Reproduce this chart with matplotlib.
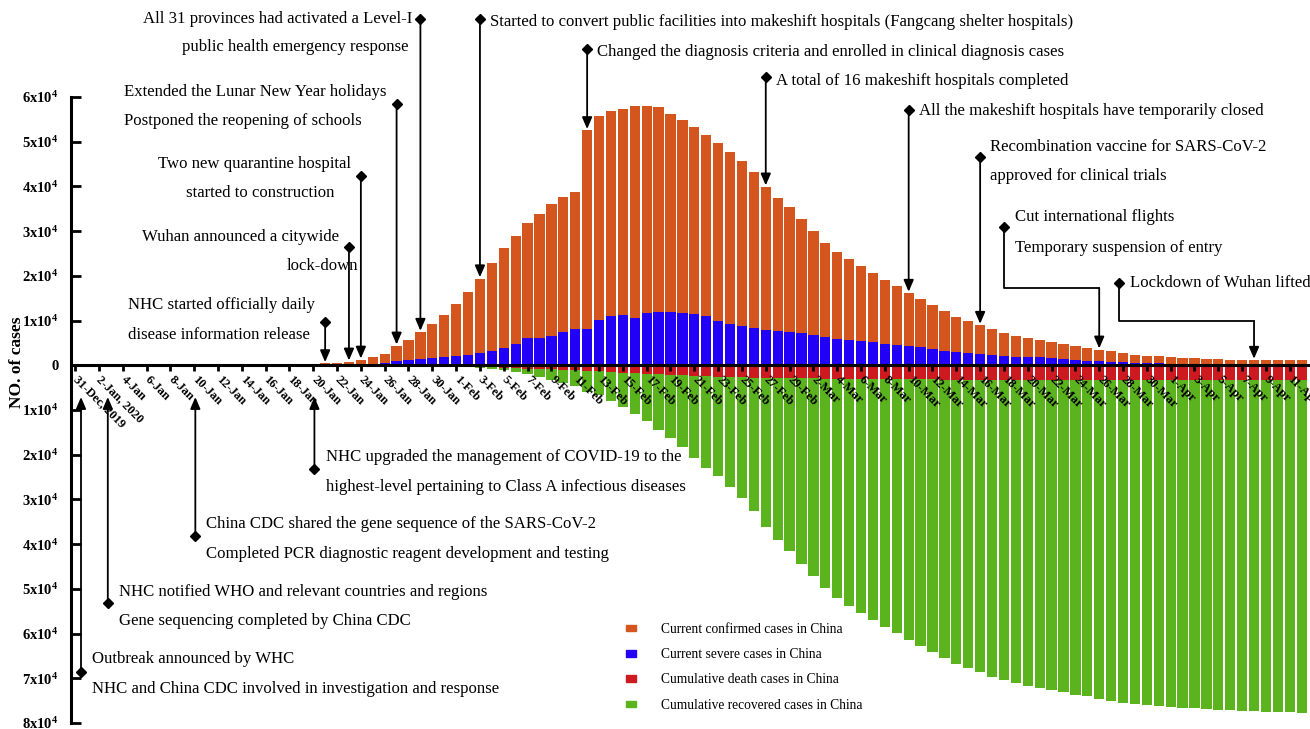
import matplotlib
matplotlib.use("Agg")
import matplotlib.pyplot as plt
import matplotlib.dates as mdates
from matplotlib.patches import Patch
import numpy as np
import pandas as pd

plt.rcParams["font.family"] = ["Liberation Serif", "DejaVu Serif"]
plt.rcParams["mathtext.fontset"] = "custom"
plt.rcParams["mathtext.rm"] = "Liberation Serif"
plt.rcParams["mathtext.bf"] = "Liberation Serif:bold"

# daily data, 20-Jan .. 12-Apr 2020
dates = pd.date_range("2020-01-20", "2020-04-12")

current_confirmed = [
    260, 403, 526, 771, 1208, 1870, 2613, 4349, 5739, 7417, 9308, 11289,
    13748, 16369, 19381, 22942, 26302, 28985, 31774, 33738, 35982, 37626, 38800,
    52526, 55748, 56873, 57416, 57934, 58016, 57805, 56303, 54965, 53284, 51606,
    49824, 47672, 45604, 43258, 39919, 37414, 35329,
    32652, 30004, 27433, 25352, 23784, 22177, 20533, 19016, 17721, 16145, 14831,
    13526, 12094, 10734, 9898, 8976, 8056, 7263, 6569, 6013, 5549, 5120, 4735,
    4287, 3947, 3460, 3128, 2691, 2396, 2161, 2004,
    1863, 1727, 1562, 1376, 1299, 1242, 1190, 1160, 1116, 1089, 1138, 1156,
]
current_severe = [
    63, 102, 95, 177, 237, 324, 461, 976, 1239, 1370, 1527, 1795,
    2110, 2296, 2788, 3219, 3859, 4821, 6101, 6188, 6484, 7333, 8204,
    8030, 10204, 11053, 11272, 10644, 11741, 12017, 11977, 11633, 11477, 10968,
    9915, 9126, 8752, 8346, 7952, 7664, 7365,
    7110, 6806, 6416, 5952, 5737, 5489, 5264, 4794, 4492, 4257, 4020,
    3610, 3226, 3032, 2830, 2622, 2314, 2136, 1963, 1845, 1749, 1573,
    1399, 1235, 1034, 921, 742, 633, 528, 466, 429,
    295, 267, 211, 189, 183, 176, 189, 176, 168, 121, 121, 89,
]
cum_deaths = [
    6, 9, 17, 25, 41, 56, 80, 106, 132, 170, 213, 259,
    304, 361, 425, 490, 563, 636, 722, 811, 908, 1016, 1113, 1367, 1380, 1523,
    1665, 1770, 1868, 2004, 2118, 2236, 2345, 2442, 2592, 2663, 2715, 2744,
    2788, 2835, 2870,
    2912, 2943, 2981, 3012, 3042, 3070, 3097, 3119, 3136, 3158, 3169, 3176,
    3189, 3199, 3213, 3226, 3237, 3245, 3248, 3255, 3261, 3270, 3277, 3281,
    3287, 3292, 3295, 3300, 3304, 3305, 3312,
    3318, 3322, 3326, 3329, 3331, 3331, 3333, 3335, 3336, 3339, 3339, 3341,
]
cum_recovered = [
    25, 28, 28, 34, 38, 49, 51, 60, 103, 124, 171, 243,
    328, 475, 632, 892, 1153, 1540, 2050, 2649, 3281, 3996, 4740, 5911, 6723,
    8096, 9419, 10844, 12552, 14376, 16155, 18264, 20659, 22888, 24734, 27323,
    29745, 32495, 36117, 39002, 41625,
    44462, 47204, 49856, 52045, 53726, 55404, 57065, 58600, 59897, 61475,
    62793, 64111, 65541, 66911, 67749, 68679, 69601, 70420, 71150, 71740,
    72244, 72703, 73159, 73650, 74051, 74588, 74971, 75448, 75790, 76052, 76238,
    76408, 76571, 76751, 76964, 77078, 77167, 77279, 77370, 77455, 77525,
    77575, 77663,
]

tick_dates = pd.date_range("2019-12-31", "2020-04-11", freq="2D")
tick_labels = [f"{d.day}-{d.strftime('%b')}" for d in tick_dates]
tick_labels[0] = "31-Dec, 2019"
tick_labels[1] = "2-Jan, 2020"

legend_labels = [
    "Current confirmed cases in China",
    "Current severe cases in China",
    "Cumulative death cases in China",
    "Cumulative recovered cases in China",
]
colors = ["#D4561E", "#2200F8", "#CC1A20", "#5BB31E"]

fig = plt.figure(figsize=(13.1, 7.29), dpi=100)
ax = fig.add_axes([71 / 1310, 6 / 729, 1 - 71 / 1310, (723 - 97) / 729])

x = mdates.date2num(dates)
w = 0.86
ax.bar(x, current_confirmed, width=w, color=colors[0], linewidth=0)
ax.bar(x, current_severe, width=w, color=colors[1], linewidth=0)
ax.bar(x, -np.array(cum_recovered), width=w, color=colors[3], linewidth=0)
ax.bar(x, -np.array(cum_deaths), width=w, color=colors[2], linewidth=0)

base = mdates.date2num(pd.Timestamp("2019-12-31"))
ax.set_xlim(base - 0.34, base + 103.7)
ax.set_ylim(-80000, 60000)

for s in ("top", "right"):
    ax.spines[s].set_visible(False)
ax.spines["bottom"].set_position(("data", 0))
ax.spines["bottom"].set_linewidth(2.2)
ax.spines["left"].set_linewidth(2.2)

ax.set_xticks(mdates.date2num(tick_dates))
ax.set_xticklabels(tick_labels, rotation=-45, ha="left", va="center",
                   rotation_mode="anchor", fontsize=9, fontweight="bold")
ax.tick_params(axis="x", direction="out", length=4, width=2, pad=5)

yt = np.arange(-80000, 60001, 10000)
ax.set_yticks(yt)
ax.set_yticklabels(["0" if v == 0 else r"$\mathbf{%dx10^{4}}$" % abs(v // 10000)
                    for v in yt], fontsize=10.5, fontweight="bold")
ax.tick_params(axis="y", direction="in", length=7, width=2, pad=9)

fig.text(17 / 1310, 1 - 362 / 729, "NO. of cases", rotation=90, ha="center",
         va="center", fontsize=12.5, fontweight="bold")

FS = 12.1


def day(d):
    return base + d


def bar_top(date_str, gap=300):
    i = (pd.Timestamp(date_str) - dates[0]).days
    return current_confirmed[i] + gap


def arrow(xp, y_from, y_to):
    ax.annotate("", xy=(xp, y_to), xytext=(xp, y_from),
                arrowprops=dict(arrowstyle="-|>,head_length=0.7,head_width=0.3",
                                color="k", lw=1.3, shrinkA=0, shrinkB=0),
                annotation_clip=False)


def diamond(xp, yp):
    ax.plot(xp, yp, marker="D", ms=5.5, color="k", clip_on=False)


def label(d, v, txt):
    ax.text(day(d), v, txt, ha="left", va="center", fontsize=FS, clip_on=False)


def event_top(date_str, d_y, lines):
    xp = mdates.date2num(pd.Timestamp(date_str))
    diamond(xp, d_y)
    arrow(xp, d_y, bar_top(date_str))
    for d, v, txt in lines:
        label(d, v, txt)


def event_bottom(d, d_y, lines):
    xp = day(d)
    diamond(xp, d_y)
    arrow(xp, d_y, -7100)
    for dd, v, txt in lines:
        label(dd, v, txt)


def event_elbow(d0, d_y, elbow_y, date_str, lines):
    x0 = day(d0)
    x1 = mdates.date2num(pd.Timestamp(date_str))
    diamond(x0, d_y)
    ax.plot([x0, x0, x1], [d_y, elbow_y, elbow_y], color="k", lw=1.3, clip_on=False)
    arrow(x1, elbow_y, bar_top(date_str))
    for dd, v, txt in lines:
        label(dd, v, txt)


event_top("2020-01-21", 9600, [(4.45, 13420, "NHC started officially daily"),
                               (4.45, 6710, "disease information release")])
event_top("2020-01-23", 26400, [(5.63, 28640, "Wuhan announced a citywide"),
                                (17.8, 22150, "lock-down")])
event_top("2020-01-24", 42300, [(6.97, 44970, "Two new quarantine hospital"),
                                (9.32, 38480, "started to construction")])
event_top("2020-01-27", 58400, [(4.11, 61070, "Extended the Lunar New Year holidays"),
                                (4.11, 54590, "Postponed the reopening of schools")])
event_top("2020-01-29", 77400, [(5.71, 77400, "All 31 provinces had activated a Level-I"),
                                (8.98, 71140, "public health emergency response")])
event_top("2020-02-03", 77400, [(34.85, 76730, "Started to convert public facilities into "
                                 "makeshift hospitals (Fangcang shelter hospitals)")])
event_top("2020-02-12", 70700, [(43.83, 70020, "Changed the diagnosis criteria and "
                                 "enrolled in clinical diagnosis cases")])
event_top("2020-02-27", 64400, [(58.86, 63530, "A total of 16 makeshift hospitals completed")])
event_top("2020-03-10", 57050, [(70.87, 56820, "All the makeshift hospitals have temporarily closed")])
event_top("2020-03-16", 46500, [(76.83, 48770, "Recombination vaccine for SARS-CoV-2"),
                                (76.83, 42280, "approved for clinical trials")])
event_elbow(78.0, 30870, 17230, "2020-03-26", [(78.93, 33110, "Cut international flights"),
                                               (78.93, 26170, "Temporary suspension of entry")])
event_elbow(87.66, 18340, 9840, "2020-04-08", [(88.6, 18340, "Lockdown of Wuhan lifted")])

event_bottom(20.1, -23270, [(21.07, -20580, "NHC upgraded the management of COVID-19 to the"),
                            (21.07, -27290, "highest-level pertaining to Class A infectious diseases")])
event_bottom(10.1, -38260, [(11.0, -35570, "China CDC shared the gene sequence of the SARS-CoV-2"),
                            (11.0, -42280, "Completed PCR diagnostic reagent development and testing")])
event_bottom(2.75, -53240, [(3.69, -50780, "NHC notified WHO and relevant countries and regions"),
                            (3.69, -57270, "Gene sequencing completed by China CDC")])
event_bottom(0.5, -68680, [(1.43, -65770, "Outbreak announced by WHC"),
                           (1.43, -72480, "NHC and China CDC involved in investigation and response")])

handles = [Patch(color=c) for c in colors]
fig.legend(handles, legend_labels, loc="upper left",
           bbox_to_anchor=(626 / 1310, 1 - 623 / 729), frameon=False,
           fontsize=9.75, handlelength=0.75, handleheight=0.35, handletextpad=1.8,
           labelspacing=0.9, borderpad=0, borderaxespad=0)

fig.savefig("out.png", dpi=100)
